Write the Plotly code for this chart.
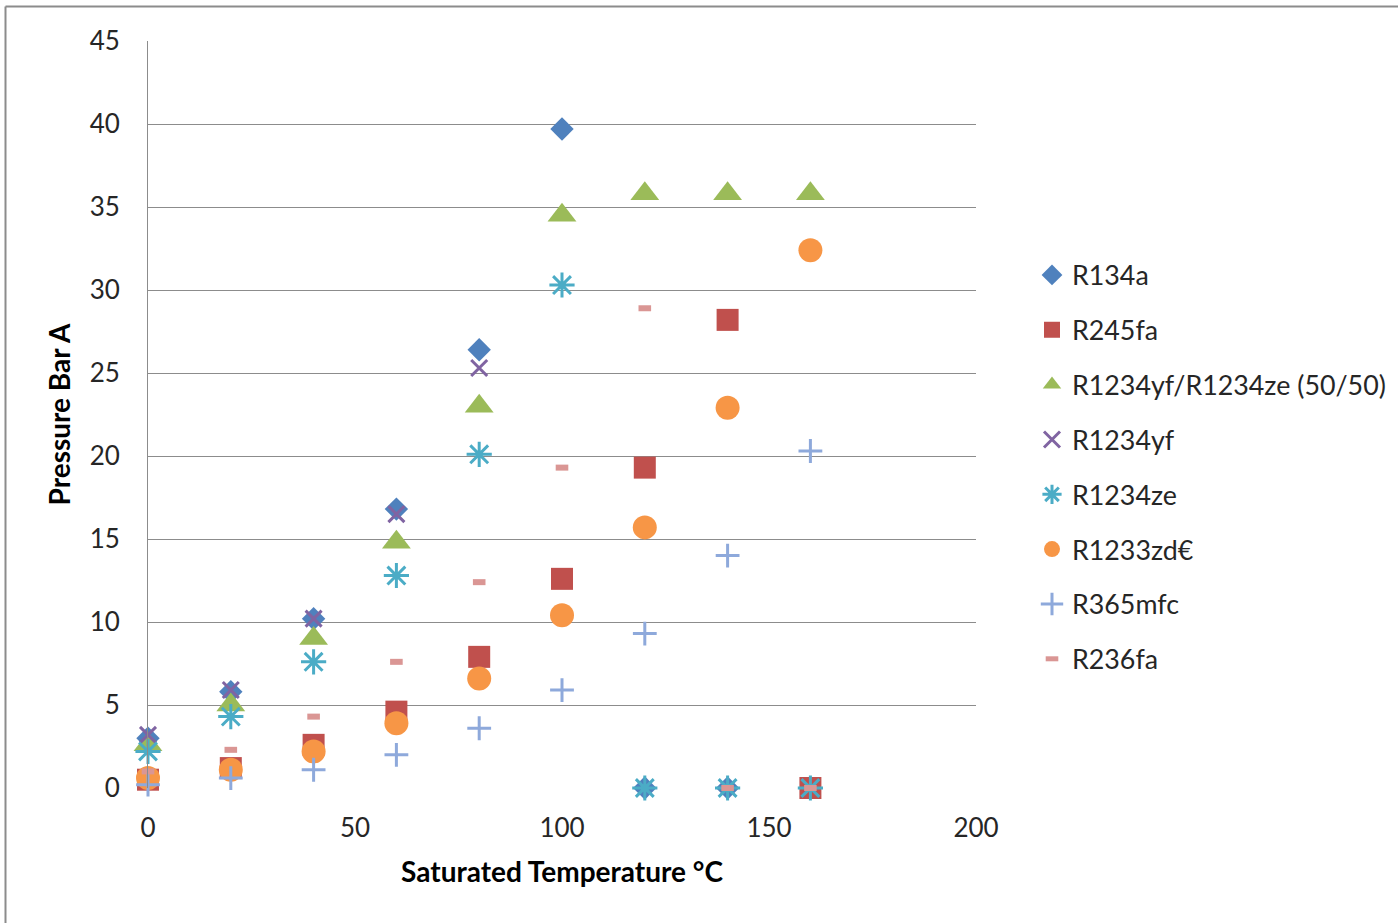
import plotly.graph_objects as go

temps = [0, 20, 40, 60, 80, 100, 120, 140, 160]

r134a = [3.0, 5.8, 10.2, 16.8, 26.4, 39.7, 0, 0, 0]
r245fa = [0.5, 1.2, 2.6, 4.6, 7.9, 12.6, 19.3, 28.2, 0]
r1234yf_ze = [2.6, 5.0, 9.0, 14.8, 23.0, 34.5, 35.8, 35.8, 35.8]
r1234yf = [3.2, 5.9, 10.2, 16.5, 25.3, None, None, None, None]
r1234ze = [2.2, 4.3, 7.6, 12.8, 20.1, 30.3, 0, 0, 0]
r1233zd = [0.6, 1.1, 2.2, 3.9, 6.6, 10.4, 15.7, 22.9, 32.4]
r365mfc = [0.2, 0.6, 1.1, 2.0, 3.6, 5.9, 9.3, 14.0, 20.3]
r236fa = [1.0, 2.3, 4.3, 7.6, 12.4, 19.3, 28.9, 0, 0]

series_names = ["R134a", "R245fa", "R1234yf/R1234ze (50/50)", "R1234yf",
                "R1234ze", "R1233zd€", "R365mfc", "R236fa"]
y_ticks = [0, 5, 10, 15, 20, 25, 30, 35, 40, 45]
x_ticks = [0, 50, 100, 150, 200]

styles = [
    dict(symbol="diamond", size=18, color="#4F81BD"),
    dict(symbol="square", size=22, color="#C0504D"),
    dict(symbol="triangle-up", size=25, color="#9BBB59"),
    dict(symbol="x-thin", size=16, color="#8064A2", line=dict(width=3, color="#8064A2")),
    dict(symbol="asterisk", size=21, color="#4BACC6", line=dict(width=3, color="#4BACC6")),
    dict(symbol="circle", size=24, color="#F79646"),
    dict(symbol="cross-thin", size=17, color="#8EA9DB", line=dict(width=3, color="#8EA9DB")),
    dict(symbol="line-ew", size=9, color="#DA9694", line=dict(width=6, color="#DA9694")),
]

data = [r134a, r245fa, r1234yf_ze, r1234yf, r1234ze, r1233zd, r365mfc, r236fa]

fig = go.Figure()
for i, (name, vals, st) in enumerate(zip(series_names, data, styles)):
    marker = dict(symbol=st["symbol"], size=st["size"], color=st["color"])
    if "line" in st:
        marker["line"] = st["line"]
    else:
        marker["line"] = dict(width=0)
    fig.add_trace(go.Scatter(x=temps, y=vals, mode="markers", name=name,
                             marker=marker, legendgroup=f"g{i}", cliponaxis=False))

font_family = "Lato, 'DejaVu Sans', sans-serif"
W, H = 1398, 923
L, R, T, B = 148, 976, 41, 788

def px_x(p):
    return (p - L) / (R - L)

def px_y(p):
    return (B - p) / (B - T)

fig.update_layout(
    width=W, height=H,
    margin=dict(l=L, r=W - R, t=T, b=H - B, pad=0, autoexpand=False),
    paper_bgcolor="white", plot_bgcolor="white",
    font=dict(family=font_family, size=26, color="#262626"),
    showlegend=True,
    legend=dict(x=px_x(1032), y=px_y(251), xanchor="left", yanchor="top",
                font=dict(family=font_family, size=26.8, color="#262626"),
                tracegroupgap=17, bgcolor="rgba(0,0,0,0)", itemsizing="trace"),
    xaxis=dict(range=[0, 200], tickvals=x_ticks, ticktext=[str(v) for v in x_ticks],
               showgrid=False, zeroline=False, showline=False, ticks="",
               ticklabelstandoff=22,
               title=dict(text="<b>Saturated Temperature °C</b>",
                          font=dict(family=font_family, size=28, color="#000000"),
                          standoff=20)),
    yaxis=dict(range=[0, 45], tickvals=y_ticks, ticktext=[str(v) for v in y_ticks],
               showgrid=True, gridcolor="#8C8C8C", gridwidth=1,
               zeroline=False, showline=True, linecolor="#8C8C8C", linewidth=1,
               ticks="", ticklabelstandoff=22,
               title=dict(text="<b>Pressure Bar A</b>",
                          font=dict(family=font_family, size=28, color="#000000"),
                          standoff=10)),
)

# outer chart border (top & left visible)
fig.add_shape(type="line", xref="paper", yref="paper",
              x0=px_x(5.5), x1=px_x(1500), y0=px_y(6.5), y1=px_y(6.5),
              line=dict(color="#8C8C8C", width=2))
fig.add_shape(type="line", xref="paper", yref="paper",
              x0=px_x(5.5), x1=px_x(5.5), y0=px_y(6.5), y1=px_y(1000),
              line=dict(color="#8C8C8C", width=2))

fig.write_html("out.html")
